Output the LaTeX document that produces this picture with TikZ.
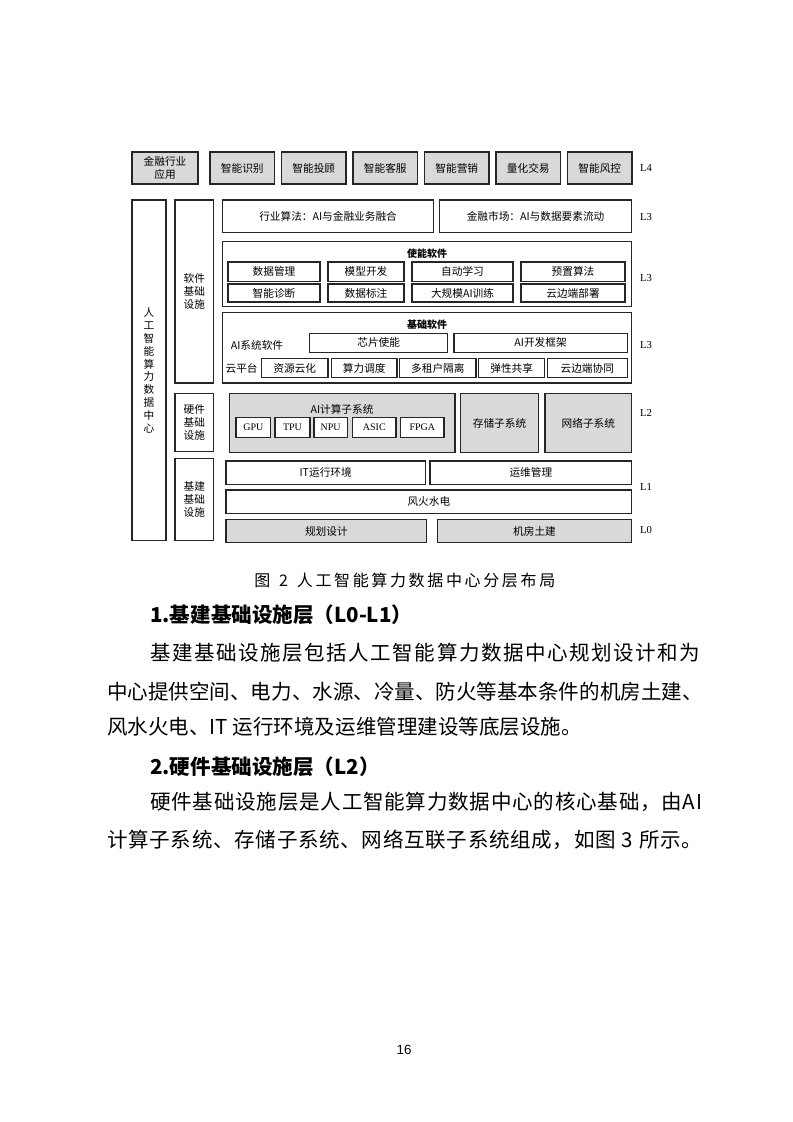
\documentclass[tikz,border=0pt]{standalone}
\usepackage{fontspec}
\setmainfont{Liberation Serif}
\newfontfamily\cjk{Noto Sans CJK SC}
\newfontfamily\numfont{Liberation Sans}
\usepackage{tikz}
\usetikzlibrary{positioning}

% spread the characters of one line over a given width
\newcommand\jline[2]{\hbox to #1{\jspread#2\relax\unskip}}
\def\jspread#1{\ifx\relax#1\else#1\hskip 0pt plus 1fil\expandafter\jspread\fi}

\begin{document}
\begin{tikzpicture}[x=0.75pt, y=-0.75pt,
    rect/.style args={#1/#2/#3/#4}{minimum width={(#3-#1)*0.75pt}, minimum height={(#4-#2)*0.75pt},
                                   at={({(#1+#3)/2},{(#2+#4)/2})}},
    box/.style={draw=black!85, line width=1pt, inner sep=0pt, font=\cjk\fontsize{8}{10}\selectfont},
    gbox/.style={box, fill=black!15},
    wbox/.style={box, fill=white, font=\fontsize{7.5}{9}\selectfont},
    lab/.style={inner sep=0pt, font=\cjk\fontsize{8}{9}\selectfont},
    title/.style={inner sep=0pt, font=\cjk\bfseries\fontsize{7.5}{9}\selectfont},
    tag/.style={inner sep=0pt, font=\fontsize{8}{9}\selectfont},
    body/.style={anchor=west, inner sep=0pt, font=\cjk\fontsize{15.4}{20}\selectfont},
    head/.style={body, font=\cjk\bfseries\fontsize{15.4}{20}\selectfont}]
    \useasboundingbox (0,0) rectangle (793,1122);

    % L4
    \node[gbox, align=center, rect=132/152/198/184] (fin) {金融行业\\应用};
    \foreach \a/\t/\n in {210/智能识别/recog, 281.5/智能投顾/advise, 353/智能客服/serve,
                          424.5/智能营销/sell, 496/量化交易/quant, 567.5/智能风控/risk}
        \node[gbox, rect=\a/152/\a+64.5/184] (\n) {\t};

    % side columns
    \node[box, align=center, font=\cjk\fontsize{8}{9.6}\selectfont, rect=132/200/166/540.7] (aidc)
        {人\\工\\智\\能\\算\\力\\数\\据\\中\\心};
    \node[box, align=center, rect=175/200/213.5/383] (soft) {软件\\基础\\设施};
    \node[box, align=center, rect=175/393.3/213.5/451.7] (hard) {硬件\\基础\\设施};
    \node[box, align=center, rect=175/458.3/213.5/540.7] (infra) {基建\\基础\\设施};

    % L3
    \node[box, rect=222.7/200/433.5/232.3] (alg) {行业算法：AI与金融业务融合};
    \node[box, rect=439.5/200/631.7/232.3] (mkt) {金融市场：AI与数据要素流动};

    \node[box, rect=222.7/241.7/631.7/306.7] (enable) {};
    \node[title] (enablet) at (427,254) {使能软件};
    \foreach \a/\b/\t/\u/\n in {228/320/数据管理/智能诊断/m1, 328/404/模型开发/数据标注/m2,
                                412/513/自动学习/大规模AI训练/m3, 521/625/预置算法/云边端部署/m4} {
        \node[box, rect=\a/262/\b/281.3] (\n-up) {\t};
        \node[box, rect=\a/284/\b/302] (\n-dn) {\u};
    }

    \node[box, rect=222.7/312.7/631.7/383] (base) {};
    \node[title] (baset) at (427,324.5) {基础软件};
    \node[lab] (sysl) at (257,345) {AI系统软件};
    \node[box, rect=309.6/333.3/447.8/352.3] (chip) {芯片使能};
    \node[box, rect=454/333.3/627.2/352.3] (frame) {AI开发框架};
    \node[lab] (cloudl) at (241.6,368.5) {云平台};
    \foreach \a/\b/\t/\n in {261.5/328/资源云化/c1, 331.6/397/算力调度/c2, 399.7/476/多租户隔离/c3,
                             478.7/544.7/弹性共享/c4, 547.4/627.2/云边端协同/c5}
        \node[box, rect=\a/358.3/\b/377.7] (\n) {\t};

    % L2
    \node[gbox, rect=229.3/393.3/455/452.7] (aic) {};
    \node[lab] (aict) at (342,409.3) {AI计算子系统};
    \foreach \a/\b/\t in {236/270.7/GPU, 275/310/TPU, 314/347.3/NPU, 352.7/396/ASIC, 400.7/444/FPGA}
        \node[wbox, rect=\a/417.3/\b/437.3] (\t) {\t};
    \node[gbox, rect=460.7/393.3/538.3/452.7] (store) {存储子系统};
    \node[gbox, rect=545/393.3/631.7/452.7] (net) {网络子系统};

    % L1 / L0
    \node[box, rect=226/461/425.4/484.3] (itenv) {IT运行环境};
    \node[box, rect=430/461/631.7/484.3] (ops) {运维管理};
    \node[box, rect=226/490/631.7/513.3] (power) {风火水电};
    \node[gbox, rect=226/519.3/426.7/542.7] (plan) {规划设计};
    \node[gbox, rect=437.3/519.3/631.7/542.7] (room) {机房土建};

    % layer tags
    \foreach \y/\t/\n in {168/L4/t4, 216.7/L3/t3a, 278/L3/t3b, 345/L3/t3c, 413.3/L2/t2, 486.7/L1/t1, 530/L0/t0}
        \node[tag] (\n) at (646,\y) {\t};

    % text of the page
    \node[body] (cap) at (254,580) {\fontsize{12}{14}\selectfont\jline{225.75pt}{图~2~人工智能算力数据中心分层布局}};
    \node[head] (h1) at (150,615) {1.基建基础设施层（L0-L1）};
    \node[body] (p1a) at (150,653) {\jline{412.5pt}{基建基础设施层包括人工智能算力数据中心规划设计和为}};
    \node[body] (p1b) at (107,691.7) {\jline{444.75pt}{中心提供空间、电力、水源、冷量、防火等基本条件的机房土建、}};
    \node[body] (p1c) at (107,726.7) {风水火电、IT 运行环境及运维管理建设等底层设施。};
    \node[head] (h2) at (150,766.7) {2.硬件基础设施层（L2）};
    \node[body] (p2a) at (150,801.7) {\jline{414pt}{硬件基础设施层是人工智能算力数据中心的核心基础，由AI}};
    \node[body] (p2b) at (107,840) {\jline{446.25pt}{计算子系统、存储子系统、网络互联子系统组成，如图~3~所示。}};
    \node[font=\numfont\fontsize{10}{12}\selectfont] (pg) at (404,1050) {16};
\end{tikzpicture}
\end{document}
